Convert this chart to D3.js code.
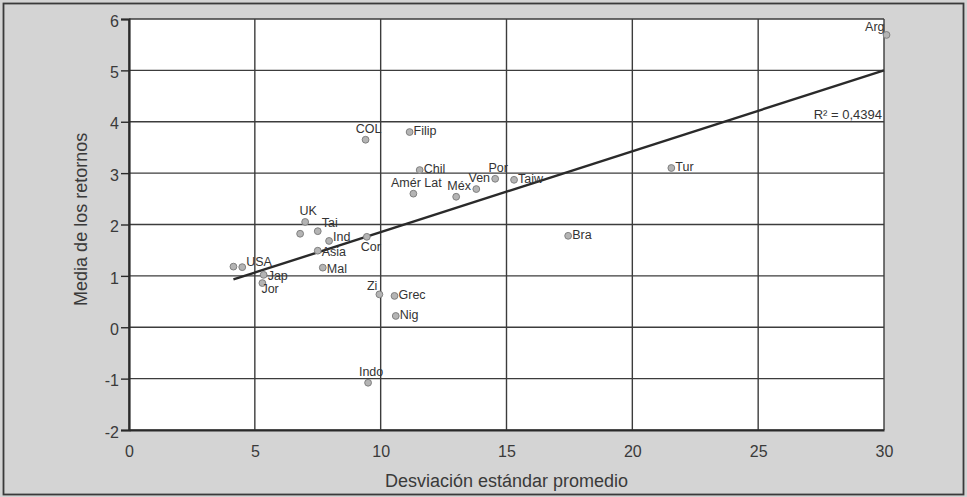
<!DOCTYPE html>
<html>
<head>
<meta charset="utf-8">
<script src="https://cdn.jsdelivr.net/npm/d3@7"></script>
<style>
  html, body { margin: 0; padding: 0; background: #d4d4d4; }
  svg { display: block; font-family: "Liberation Sans", Arial, sans-serif; }
</style>
</head>
<body>
<div id="chart"></div>
<script>
// Countries: average standard deviation vs mean returns
const countries = ['Arg', 'Tur', 'Bra', 'Taiw', 'Por', 'Ven', 'Méx', 'Amér Lat', 'Chil', 'Filip',
    'COL', 'Cor', 'Zi', 'Grec', 'Nig', 'Indo', 'Mal', 'Asia', 'Ind', 'Tai', 'UK', '', 'USA', '', 'Jap', 'Jor'];
const stdDev = [30.1, 21.55, 17.45, 15.3, 14.55, 13.8, 13.0, 11.3, 11.55, 11.15,
    9.4, 9.45, 9.95, 10.55, 10.6, 9.5, 7.7, 7.5, 7.95, 7.5, 7.0, 6.8, 4.5, 4.15, 5.35, 5.3];
const meanRet = [5.69, 3.1, 1.78, 2.87, 2.89, 2.69, 2.54, 2.6, 3.06, 3.8,
    3.65, 1.76, 0.64, 0.61, 0.22, -1.08, 1.16, 1.49, 1.68, 1.87, 2.05, 1.82, 1.17, 1.18, 1.02, 0.86];
// label placement: r = right, rc / ru / ruu / rd = right, shifted vertically,
// al = above-left, a = above, b = below, bl = below (left aligned)
const labelPos = ['al', 'r', 'r', 'r', 'a', 'a', 'a', 'a', 'r', 'r',
    'a', 'b', 'al', 'r', 'r', 'a', 'rd', 'rd', 'rc', 'ruu', 'a', 'r', 'ru', 'r', 'rd', 'bl'];

// Trend line
const trendX = [4.15, 30];
const trendY = [0.93, 5.0];
const r2Label = 'R²  =  0,4394';

const xTicks = [0, 5, 10, 15, 20, 25, 30];
const yTicks = [-2, -1, 0, 1, 2, 3, 4, 5, 6];

const width = 967, height = 497;
const margin = { left: 129, right: 83, top: 19, bottom: 67 };

const svg = d3.select('#chart').append('svg')
    .attr('width', width)
    .attr('height', height);

// outer gray panel with frame
svg.append('rect')
    .attr('x', 3.5).attr('y', 3.5)
    .attr('width', width - 7).attr('height', height - 6)
    .attr('fill', '#d4d4d4')
    .attr('stroke', '#3a3a3a')
    .attr('stroke-width', 1.8);

const x = d3.scaleLinear().domain([0, 30]).range([margin.left, width - margin.right]);
const y = d3.scaleLinear().domain([-2, 6]).range([height - margin.bottom, margin.top]);

// plot background
svg.append('rect')
    .attr('x', x(0)).attr('y', y(6))
    .attr('width', x(30) - x(0)).attr('height', y(-2) - y(6))
    .attr('fill', '#ffffff');

// gridlines
svg.append('g').selectAll('line')
    .data(yTicks)
    .enter().append('line')
    .attr('x1', x(0)).attr('x2', x(30))
    .attr('y1', d => y(d)).attr('y2', d => y(d))
    .attr('stroke', '#3c3c3c')
    .attr('stroke-width', 1.4);

svg.append('g').selectAll('line')
    .data(xTicks)
    .enter().append('line')
    .attr('x1', d => x(d)).attr('x2', d => x(d))
    .attr('y1', y(6)).attr('y2', y(-2))
    .attr('stroke', '#3c3c3c')
    .attr('stroke-width', 1.4);

// y axis
const yAxis = svg.append('g')
    .attr('transform', `translate(${x(0)},0)`)
    .call(d3.axisLeft(y).tickValues(yTicks).tickSize(8).tickPadding(2).tickFormat(d => String(d)));
yAxis.select('.domain').attr('stroke', '#2a2a2a').attr('stroke-width', 2.2);
yAxis.selectAll('.tick line').attr('stroke', '#2a2a2a').attr('stroke-width', 1.4);
yAxis.selectAll('text').attr('font-size', 16).attr('fill', '#3a3a3a').attr('dy', '0.45em');

// x axis (labels only, no tick marks)
const xAxis = svg.append('g')
    .attr('transform', `translate(0,${y(-2)})`)
    .call(d3.axisBottom(x).tickValues(xTicks).tickSize(0).tickPadding(16).tickFormat(d => String(d)));
xAxis.select('.domain').attr('stroke', '#2a2a2a').attr('stroke-width', 2);
xAxis.selectAll('text').attr('font-size', 16).attr('fill', '#3a3a3a');

// axis titles
svg.append('text')
    .attr('x', (x(0) + x(30)) / 2)
    .attr('y', 487)
    .attr('text-anchor', 'middle')
    .attr('font-size', 18)
    .attr('fill', '#3a3a3a')
    .text('Desviación estándar promedio');

svg.append('text')
    .attr('transform', `translate(87,${y(2.1)}) rotate(-90)`)
    .attr('text-anchor', 'middle')
    .attr('font-size', 18)
    .attr('fill', '#3a3a3a')
    .text('Media de los retornos');

// trend line
svg.append('line')
    .attr('x1', x(trendX[0])).attr('y1', y(trendY[0]))
    .attr('x2', x(trendX[1])).attr('y2', y(trendY[1]))
    .attr('stroke', '#2a2a2a')
    .attr('stroke-width', 2.4);

svg.append('text')
    .attr('x', x(30) - 2)
    .attr('y', y(4) - 3)
    .attr('text-anchor', 'end')
    .attr('font-size', 13)
    .attr('fill', '#333')
    .text(r2Label);

// points
const data = countries.map((c, i) => ({ name: c, sx: stdDev[i], m: meanRet[i], pos: labelPos[i] }));

svg.append('g').selectAll('circle')
    .data(data)
    .enter().append('circle')
    .attr('cx', d => x(d.sx))
    .attr('cy', d => y(d.m))
    .attr('r', 3.4)
    .attr('fill', '#b4b4b4')
    .attr('stroke', '#808080')
    .attr('stroke-width', 1);

// labels
const dxFor = { r: 4, rc: 4, ru: 4, ruu: 4, rd: 4, al: -2, a: 3, b: 4, bl: -1 };
const dyFor = { r: 3, rc: 0, ru: -1, ruu: -4, rd: 5, al: -4, a: -7, b: 14, bl: 10 };
const anchorFor = { al: 'end', a: 'middle', b: 'middle' };

svg.append('g').selectAll('text')
    .data(data.filter(d => d.name))
    .enter().append('text')
    .attr('x', d => x(d.sx) + dxFor[d.pos])
    .attr('y', d => y(d.m) + dyFor[d.pos])
    .attr('text-anchor', d => anchorFor[d.pos] || 'start')
    .attr('font-size', 12.5)
    .attr('fill', '#333')
    .text(d => d.name);
</script>
</body>
</html>
